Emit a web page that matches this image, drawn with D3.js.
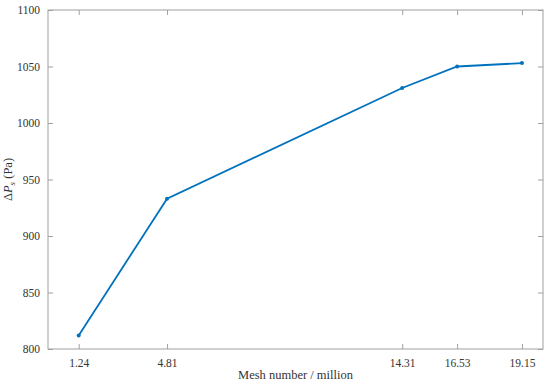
<!DOCTYPE html>
<html>
<head>
<meta charset="utf-8">
<script src="https://cdn.jsdelivr.net/npm/d3@7"></script>
<style>
  body { margin: 0; background: #fff; }
  text { font-family: "Liberation Serif", "Times New Roman", serif; }
</style>
</head>
<body>
<div id="chart"></div>
<script>
var meshNumbers = [1.24, 4.81, 14.31, 16.53, 19.15];
var pressureDrop = [812, 933, 1031, 1050, 1053];
var yTicks = [800, 850, 900, 950, 1000, 1050, 1100];

var margin = {top: 10, right: 7, bottom: 34, left: 48},
    width = 550 - margin.left - margin.right,
    height = 383 - margin.top - margin.bottom;

var svg = d3.select("#chart")
  .append("svg")
  .attr("width", 550)
  .attr("height", 383)
  .append("g")
  .attr("transform", "translate(" + margin.left + "," + margin.top + ")");

var x = d3.scaleLinear().domain([0, 20]).range([0, width]);
var y = d3.scaleLinear().domain([800, 1100]).range([height, 0]);

var axisColor = "#a0a0a0";
var tickLen = 5;

function styleAxis(g) {
  g.select(".domain").remove();
  g.selectAll(".tick line").attr("stroke", axisColor);
  g.selectAll(".tick text").attr("fill", "#333").style("font-size", "11.5px");
}

// bottom
svg.append("g")
  .attr("transform", "translate(0," + height + ")")
  .call(d3.axisBottom(x).tickValues(meshNumbers).tickFormat(d3.format(".2f"))
    .tickSizeInner(-tickLen).tickSizeOuter(0).tickPadding(10))
  .call(styleAxis);
// top
svg.append("g")
  .call(d3.axisTop(x).tickValues(meshNumbers).tickFormat("")
    .tickSizeInner(-tickLen).tickSizeOuter(0))
  .call(styleAxis);
// left
svg.append("g")
  .call(d3.axisLeft(y).tickValues(yTicks).tickFormat(d3.format("d"))
    .tickSizeInner(-tickLen).tickSizeOuter(0).tickPadding(8))
  .call(styleAxis);
// right
svg.append("g")
  .attr("transform", "translate(" + width + ",0)")
  .call(d3.axisRight(y).tickValues(yTicks).tickFormat("")
    .tickSizeInner(-tickLen).tickSizeOuter(0))
  .call(styleAxis);

// box
svg.append("rect")
  .attr("x", 0).attr("y", 0)
  .attr("width", width).attr("height", height)
  .attr("fill", "none")
  .attr("stroke", axisColor)
  .attr("stroke-width", 1);

var data = meshNumbers.map(function(d, i) { return {x: d, y: pressureDrop[i]}; });

svg.append("path")
  .datum(data)
  .attr("fill", "none")
  .attr("stroke", "#0072BD")
  .attr("stroke-width", 1.8)
  .attr("d", d3.line().x(function(d) { return x(d.x); }).y(function(d) { return y(d.y); }));

svg.selectAll("circle.pt")
  .data(data)
  .enter()
  .append("circle")
  .attr("class", "pt")
  .attr("cx", function(d) { return x(d.x); })
  .attr("cy", function(d) { return y(d.y); })
  .attr("r", 2)
  .attr("fill", "#0072BD");

// x label
svg.append("text")
  .attr("x", width / 2)
  .attr("y", height + 30)
  .attr("text-anchor", "middle")
  .attr("fill", "#333")
  .style("font-size", "12.5px")
  .text("Mesh number / million");

// y label
var yl = svg.append("text")
  .attr("transform", "translate(-36," + (height / 2) + ") rotate(-90)")
  .attr("text-anchor", "middle")
  .attr("fill", "#333")
  .style("font-size", "12.5px");
yl.append("tspan").text("\u0394");
yl.append("tspan").style("font-style", "italic").text("P");
yl.append("tspan").style("font-style", "italic").style("font-size", "9px").attr("dy", 3).text("s");
yl.append("tspan").attr("dy", -3).text(" (Pa)");
</script>
</body>
</html>
